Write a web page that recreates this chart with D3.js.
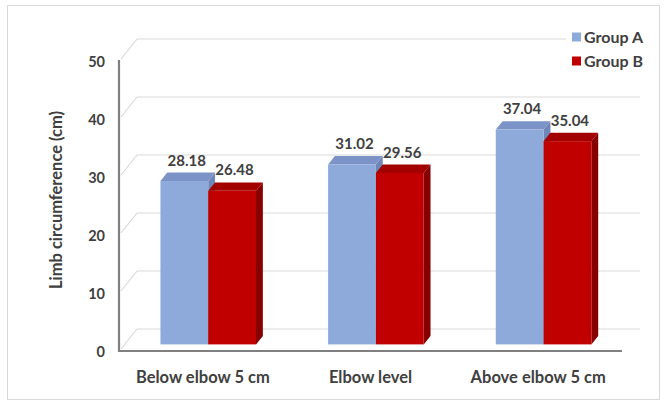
<!DOCTYPE html>
<html>
<head>
<meta charset="utf-8">
<script src="https://cdn.jsdelivr.net/npm/d3@7"></script>
<style>
  html, body { margin: 0; padding: 0; background: #fff; }
  svg { display: block; }
  text { font-family: Lato, "Open Sans", sans-serif; font-weight: bold; fill: #404040; }
</style>
</head>
<body>
<svg id="chart" width="665" height="406"></svg>
<script>
// Limb circumference by measurement site
const categories = ["Below elbow 5 cm", "Elbow level", "Above elbow 5 cm"];
const groups = ["Group A", "Group B"];
const groupA = [28.18, 31.02, 37.04];
const groupB = [26.48, 29.56, 35.04];
const yTicks = [0, 10, 20, 30, 40, 50];

const series = [groupA, groupB];
const colors = {
  "Group A": { front: "#8eaadb", top: "#7b93c6", side: "#6f87b8" },
  "Group B": { front: "#c00000", top: "#a30000", side: "#860000" }
};

const svg = d3.select("#chart");

// outer frame
svg.append("rect")
  .attr("x", 7.5).attr("y", 5.5).attr("width", 652).attr("height", 394)
  .attr("fill", "#fff").attr("stroke", "#d9d9d9").attr("stroke-width", 1);

// front plane geometry and depth vector of the 3-D box
const plot = { left: 119, right: 622, base: 351, top: 61 };
const depth = { dx: 18, dy: -22 };
const f0 = 0.3, f1 = 0.68; // bar depth span within the box

const x0 = d3.scaleBand().domain(categories).range([plot.left, plot.right]);
const groupWidth = x0.bandwidth() * 0.57;
const x1 = d3.scaleBand().domain(groups).range([0, groupWidth]);
const y = d3.scaleLinear().domain([0, 50]).range([plot.base, plot.top]);

// back wall gridlines and side wall diagonals
const grid = svg.append("g").attr("stroke", "#d9d9d9").attr("stroke-width", 1.2).attr("fill", "none");
yTicks.forEach(t => {
  const yy = y(t);
  grid.append("line")
    .attr("x1", plot.left + depth.dx).attr("y1", yy + depth.dy)
    .attr("x2", plot.right + depth.dx).attr("y2", yy + depth.dy);
  grid.append("line")
    .attr("x1", plot.left + 2).attr("y1", yy - 2)
    .attr("x2", plot.left + depth.dx).attr("y2", yy + depth.dy);
});

// bars: front face, top face, right side face
const barsG = svg.append("g");
categories.forEach((cat, i) => {
  groups.forEach((g, j) => {
    const v = series[j][i];
    const c = colors[g];
    const bx = x0(cat) + (x0.bandwidth() - groupWidth) / 2 + x1(g) + depth.dx * f0;
    const bw = x1.bandwidth();
    const yb = y(0) + depth.dy * f0;
    const yt = y(v) + depth.dy * f0;
    const ddx = depth.dx * (f1 - f0), ddy = depth.dy * (f1 - f0);
    // side
    barsG.append("path")
      .attr("d", `M${bx + bw},${yt} L${bx + bw + ddx},${yt + ddy} L${bx + bw + ddx},${yb + ddy} L${bx + bw},${yb} Z`)
      .attr("fill", c.side);
    // top
    barsG.append("path")
      .attr("d", `M${bx},${yt} L${bx + ddx},${yt + ddy} L${bx + bw + ddx},${yt + ddy} L${bx + bw},${yt} Z`)
      .attr("fill", c.top);
    // front
    barsG.append("rect")
      .attr("x", bx).attr("y", yt).attr("width", bw).attr("height", yb - yt)
      .attr("fill", c.front);
    // value label
    svg.append("text")
      .attr("x", bx + bw / 2 + ddx / 2 - 1)
      .attr("y", yt + ddy - 7)
      .attr("text-anchor", "middle")
      .attr("font-size", 15)
      .text(v.toFixed(2));
  });
});

// axes lines
const axisG = svg.append("g").attr("stroke", "#808080").attr("stroke-width", 2.2);
axisG.append("line").attr("x1", plot.left).attr("y1", y(50) - 1).attr("x2", plot.left).attr("y2", plot.base + 1);
axisG.append("line").attr("x1", plot.left - 1).attr("y1", plot.base).attr("x2", plot.right).attr("y2", plot.base);

// y tick labels
const yAxis = d3.axisLeft(y).tickValues(yTicks).tickSize(0).tickPadding(14);
const ya = svg.append("g").attr("transform", `translate(${plot.left},0)`).call(yAxis);
ya.select(".domain").remove();
ya.selectAll("text").attr("font-size", 14.5).attr("font-family", null).style("fill", "#404040").attr("dy", "0.35em");

// x category labels
const xAxis = d3.axisBottom(x0).tickSize(0).tickPadding(20);
const xa = svg.append("g").attr("transform", `translate(0,${plot.base})`).call(xAxis);
xa.select(".domain").remove();
xa.selectAll("text").attr("font-size", 16.5).attr("font-family", null).style("fill", "#404040");

// y axis title
svg.append("text")
  .attr("transform", `translate(62,${(y(0) + y(50)) / 2 - 6}) rotate(-90)`)
  .attr("text-anchor", "middle")
  .attr("font-size", 16.5)
  .text("Limb circumference (cm)");

// legend
const legend = svg.append("g").attr("transform", "translate(566,26)");
legend.append("rect").attr("x", 0).attr("y", 0).attr("width", 88).attr("height", 48).attr("fill", "#fff");
groups.forEach((g, j) => {
  const row = legend.append("g").attr("transform", `translate(6,${11 + j * 24})`);
  row.append("rect").attr("x", 0).attr("y", -4.5).attr("width", 9).attr("height", 9).attr("fill", colors[g].front);
  row.append("text").attr("x", 12).attr("y", 0).attr("dy", "0.35em").attr("font-size", 16).text(g);
});
</script>
</body>
</html>
